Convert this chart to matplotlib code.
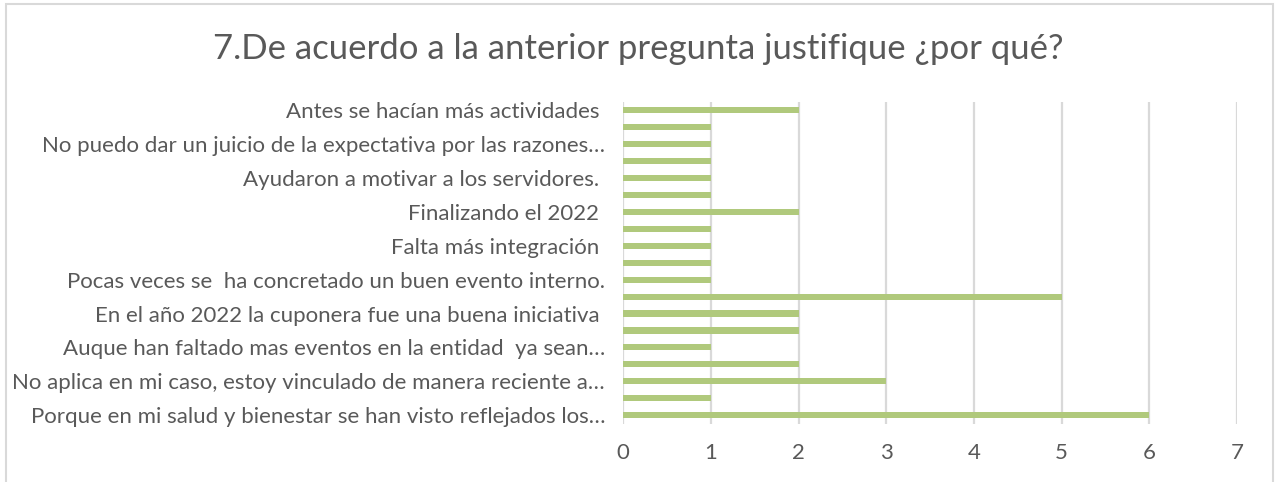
import matplotlib.pyplot as plt
from matplotlib.patches import Rectangle

# categories listed from bottom to top; only every other label is shown in the source
labels = [
    'Porque en mi salud y bienestar se han visto reflejados los…', '',
    'No aplica en mi caso, estoy vinculado de manera reciente a…', '',
    'Auque han faltado mas eventos en la entidad  ya sean…', '',
    'En el año 2022 la cuponera fue una buena iniciativa ', '',
    'Pocas veces se  ha concretado un buen evento interno.', '',
    'Falta más integración ', '',
    'Finalizando el 2022 ', '',
    'Ayudaron a motivar a los servidores. ', '',
    'No puedo dar un juicio de la expectativa por las razones…', '',
    'Antes se hacían más actividades ',
]
values = [6, 1, 3, 2, 1, 2, 2, 5, 1, 1, 1, 1, 2, 1, 1, 1, 1, 1, 2]
xticks = [0, 1, 2, 3, 4, 5, 6, 7]

title = '7.De acuerdo a la anterior pregunta justifique ¿por qué?'

plt.rcParams['font.family'] = ['Lato', 'DejaVu Sans']
txt = '#595959'

fig = plt.figure(figsize=(12.77, 4.82), dpi=100)
# light frame around the whole chart (bottom edge falls outside the image)
fig.patches.append(Rectangle((6 / 1277, -0.02), 1267 / 1277, 1.02 - 4 / 482,
                             transform=fig.transFigure, fill=False,
                             edgecolor='#d9d9d9', linewidth=1.5))
ax = fig.add_axes([0.488, 0.121, 0.4807, 0.668])

pos = list(range(len(values)))
ax.barh(pos, values, height=0.36, color='#b0c97c', zorder=3)
ax.set_ylim(-0.5, len(values) - 0.5)
ax.set_xlim(0, 7)
ax.set_xticks(xticks)
ax.set_xticklabels([str(t) for t in xticks], fontsize=16, color=txt)
ax.set_yticks(pos)
ax.set_yticklabels(labels, fontsize=16, color=txt)
ax.tick_params(length=0)
ax.tick_params(axis='y', pad=13)
ax.tick_params(axis='x', pad=14)
ax.grid(axis='x', color='#d9d9d9', linewidth=1.6, zorder=0)
for s in ax.spines.values():
    s.set_visible(False)

fig.text(0.5, 1 - 59 / 482, title, ha='center', va='baseline', fontsize=25, color=txt)

fig.savefig('out.png', dpi=100)
